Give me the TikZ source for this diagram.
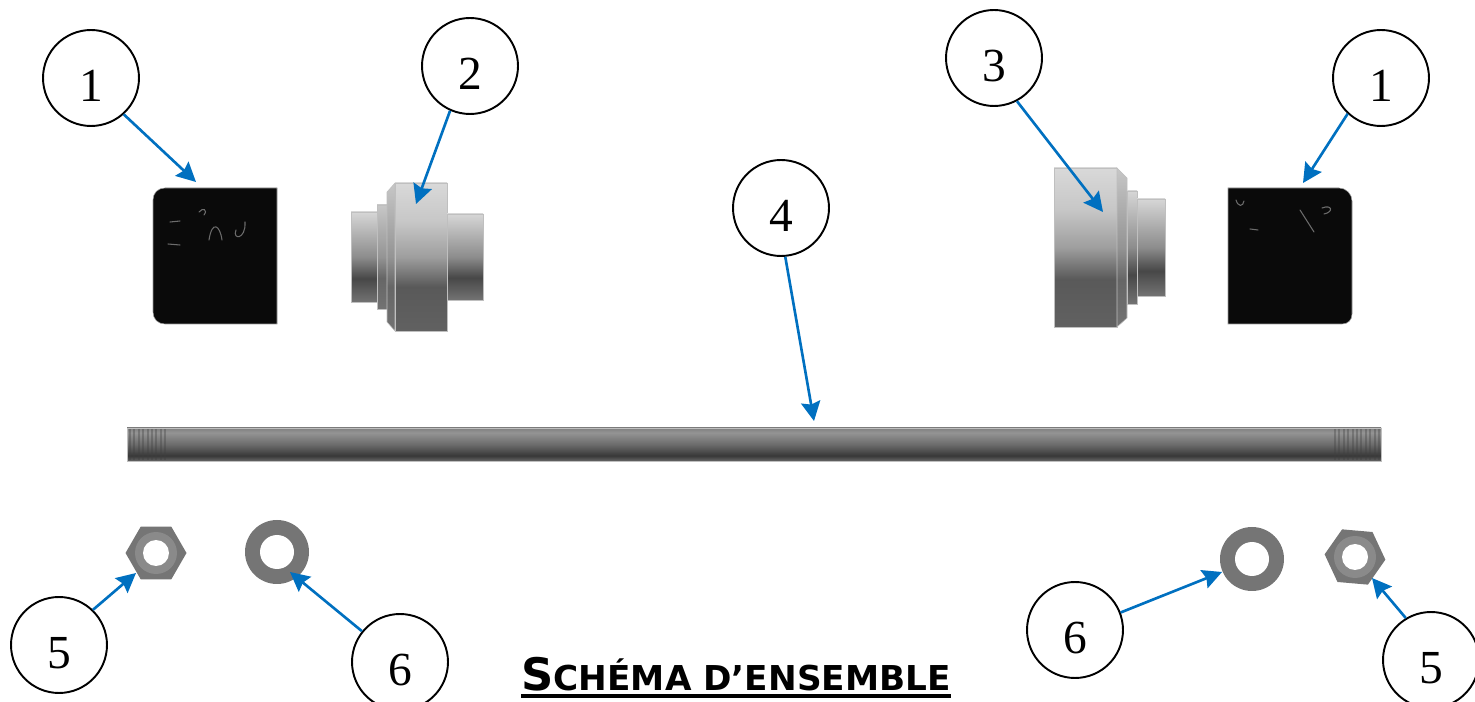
\documentclass[tikz,border=0pt]{standalone}
\usepackage{fontspec}
\setmainfont{Liberation Serif}
\newfontfamily\titlefont{DejaVu Sans}
\usetikzlibrary{arrows.meta, positioning}
\pgfdeclareverticalshading{metal main}{100bp}{color(0bp)=(black!62); color(25bp)=(black!62); color(40bp)=(black!65); color(50bp)=(black!38); color(62bp)=(black!22); color(75bp)=(black!15); color(100bp)=(black!15)}
\pgfdeclareverticalshading{metal side}{100bp}{color(0bp)=(black!55); color(25bp)=(black!55); color(40bp)=(black!60); color(50bp)=(black!42); color(75bp)=(black!22); color(100bp)=(black!22)}
\pgfdeclareverticalshading{metal hub}{100bp}{color(0bp)=(black!55); color(25bp)=(black!55); color(38bp)=(black!72); color(50bp)=(black!45); color(75bp)=(black!16); color(100bp)=(black!16)}
\pgfdeclareverticalshading{metal rod}{100bp}{color(0bp)=(black!60); color(25bp)=(black!60); color(33bp)=(black!78); color(50bp)=(black!58); color(68bp)=(black!42); color(75bp)=(black!50); color(100bp)=(black!50)}
\definecolor{arrowblue}{HTML}{0070C0}
\tikzstyle{callout} = [draw, circle, line width=1.1pt, minimum size=1.92cm, inner sep=0pt, fill=white, font=\fontsize{27}{27}\selectfont, text height=27pt, text depth=0pt]
\tikzstyle{path} = [-{Stealth[length=11pt, width=11pt, inset=1.5pt]}, line width=1.5pt, arrowblue]
\tikzstyle{part} = [draw=black!25, line width=0.3pt]
\tikzstyle{block} = [fill=black!96, draw=black!40, line width=0.3pt]
\tikzstyle{glint} = [draw=white, opacity=0.4, line width=0.6pt, line cap=round]
\tikzstyle{thread} = [draw=black!75, opacity=0.35, line width=1.1pt]
\begin{document}
\begin{tikzpicture}[x=0.02cm, y=-0.02cm]
    \useasboundingbox (0, 0) rectangle (1475, 702);

    % Blocks.
    \draw [block] (165, 188) -- (277, 188) -- (277, 324) -- (165, 324) .. controls (158, 324) and (153, 319) .. (153, 312) -- (153, 200) .. controls (153, 193) and (158, 188) .. (165, 188) -- cycle;
    \draw [block] (1228, 188) -- (1339, 188) .. controls (1346, 188) and (1352, 194) .. (1352, 201) -- (1352, 314) .. controls (1352, 320) and (1348, 324) .. (1342, 324) -- (1228, 324) -- cycle;
    \draw [glint] (199, 212) .. controls (203, 207) and (208, 210) .. (204, 215);
    \draw [glint] (209, 240) .. controls (212, 220) and (220, 225) .. (222, 240);
    \draw [glint] (245, 222) .. controls (246, 240) and (232, 240) .. (236, 230);
    \draw [glint] (170, 222) -- (180, 221);
    \draw [glint] (168, 244) -- (180, 245);
    \draw [glint] (1300, 210) -- (1314, 232);
    \draw [glint] (1250, 229) -- (1258, 230);
    \draw [glint] (1236, 200) .. controls (1238, 207) and (1243, 207) .. (1244, 201);
    \draw [glint] (1322, 208) .. controls (1332, 204) and (1334, 212) .. (1324, 214);

    % Left spacer.
    \shade [part, shading=metal hub] (351, 212) rectangle (377, 302);
    \shade [part, shading=metal side] (377, 205) rectangle (387, 309);
    \shade [part, shading=metal side] (387, 192) -- (395, 183) -- (395, 331) -- (387, 322) -- cycle;
    \shade [part, shading=metal main] (395, 183) rectangle (447, 331);
    \shade [part, shading=metal hub] (447, 214) rectangle (483, 300);

    % Right spacer.
    \shade [part, shading=metal main] (1054, 168) rectangle (1117, 327);
    \shade [part, shading=metal side] (1117, 168) -- (1127, 178) -- (1127, 318) -- (1117, 327) -- cycle;
    \shade [part, shading=metal hub] (1127, 191) rectangle (1137, 304);
    \shade [part, shading=metal hub] (1137, 199) rectangle (1165, 296);

    % Rod.
    \shade [part, shading=metal rod] (127, 428) rectangle (1381, 461);
    \foreach \i in {0, ..., 8} {
        \draw [thread] (130 + 4.4*\i, 429) -- (130 + 4.4*\i, 460);
    }
    \foreach \i in {0, ..., 10} {
        \draw [thread] (1335 + 4.4*\i, 429) -- (1335 + 4.4*\i, 460);
    }

    % Nuts.
    \foreach \cx/\cy/\rot in {156/553/0, 1355/557/5} {
        \fill [black!54] (\cx, \cy) ++(\rot:30.5) -- ++(\rot+120:30.5) -- ++(\rot+180:30.5) -- ++(\rot+240:30.5) -- ++(\rot+300:30.5) -- ++(\rot:30.5) -- cycle;
        \fill [black!46] (\cx, \cy) circle (21);
        \fill [white] (\cx, \cy) circle (13);
    }

    % Washers.
    \foreach \cx/\cy in {277/552, 1252/559} {
        \fill [black!54] (\cx, \cy) circle (32);
        \fill [white] (\cx, \cy) circle (17);
    }

    % Nodes.
    \foreach \n/\cx/\cy/\t in {a/91/78/1, b/470/66/2, c/994/58/3, d/1381/78/1, e/781/208/4, f/59/645/5, g/400/662/6, h/1075/630/6, i/1431/660/5} {
        \node (num \n) [callout] at (\cx, \cy) {\t};
    }

    % Arrow tips.
    \coordinate (tip a) at (196, 182);
    \coordinate (tip b) at (416, 204);
    \coordinate (tip c) at (1103, 212);
    \coordinate (tip d) at (1303, 183);
    \coordinate (tip e) at (814, 421);
    \coordinate (tip f) at (136, 573);
    \coordinate (tip g) at (290, 572);
    \coordinate (tip h) at (1222, 572);
    \coordinate (tip i) at (1372, 578);

    % Arrows.
    \foreach \n/\a in {a/-48, b/-114, c/-62, d/-133, e/-85, f/46, g/141, h/21, i/121} {
        \draw [path] (num \n.\a) -- (tip \n);
    }

    % Title.
    \node (title) [anchor=base, inner sep=0pt, font=\titlefont\bfseries] at (736, 690) {{\fontsize{25.5}{26}\selectfont S}{\fontsize{19.5}{20}\selectfont CHÉMA D’ENSEMBLE}};
    \draw [line width=2.8pt] ([yshift=-3.4pt]title.base west) -- ([yshift=-3.4pt]title.base east);
\end{tikzpicture}
\end{document}
